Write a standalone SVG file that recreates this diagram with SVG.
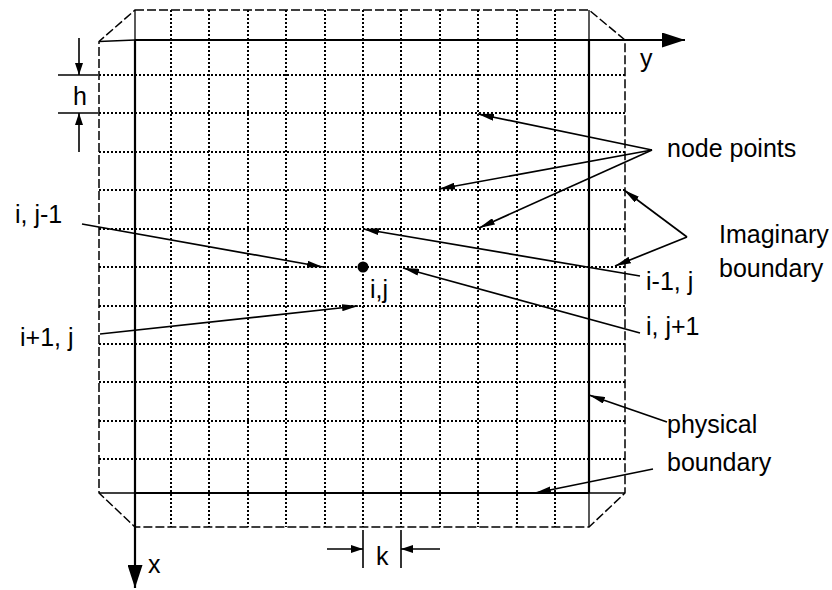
<svg xmlns="http://www.w3.org/2000/svg" width="832" height="590" viewBox="0 0 832 590">
<style>
  text { font-family: "Liberation Sans", Arial, sans-serif; font-size: 25px; fill: #000; }
  .dot { stroke: #000; stroke-width: 2; stroke-dasharray: 2 2; fill: none; }
  .dash { stroke: #000; stroke-width: 1.5; stroke-dasharray: 9 3; fill: none; }
  .thick { stroke: #000; stroke-width: 2.2; fill: none; }
  .thin { stroke: #000; stroke-width: 1.3; fill: none; }
  .lead { stroke: #000; stroke-width: 1.7; fill: none; marker-end: url(#ah); }
  .dim { stroke: #000; stroke-width: 1.6; fill: none; }
  .dimarr { stroke: #000; stroke-width: 1.6; fill: none; marker-end: url(#dh); }
</style>
<defs>
  <marker id="ah" markerUnits="userSpaceOnUse" markerWidth="16" markerHeight="7" viewBox="0 0 16 7" refX="16" refY="3.5" orient="auto">
    <path d="M0,0 L16,3.5 L0,7 Z" fill="#000"/>
  </marker>
  <marker id="dh" markerUnits="userSpaceOnUse" markerWidth="12" markerHeight="8" viewBox="0 0 12 8" refX="12" refY="4" orient="auto">
    <path d="M0,0 L12,4 L0,8 Z" fill="#000"/>
  </marker>
  <marker id="axh" markerUnits="userSpaceOnUse" markerWidth="23" markerHeight="15" viewBox="0 0 23 15" refX="23" refY="7.5" orient="auto">
    <path d="M0,0 L23,7.5 L0,15 Z" fill="#000"/>
  </marker>
</defs>

<g id="grid">
  <g id="grid-columns">
    <line class="dot" x1="171" y1="10" x2="171" y2="527"/>
    <line class="dot" x1="209" y1="10" x2="209" y2="527"/>
    <line class="dot" x1="248" y1="10" x2="248" y2="527"/>
    <line class="dot" x1="286" y1="10" x2="286" y2="527"/>
    <line class="dot" x1="325" y1="10" x2="325" y2="527"/>
    <line class="dot" x1="363" y1="10" x2="363" y2="527"/>
    <line class="dot" x1="401" y1="10" x2="401" y2="527"/>
    <line class="dot" x1="440" y1="10" x2="440" y2="527"/>
    <line class="dot" x1="478" y1="10" x2="478" y2="527"/>
    <line class="dot" x1="517" y1="10" x2="517" y2="527"/>
    <line class="dot" x1="555" y1="10" x2="555" y2="527"/>
  </g>
  <g id="grid-rows">
    <line class="dot" x1="99" y1="75" x2="625" y2="75"/>
    <line class="dot" x1="99" y1="113" x2="625" y2="113"/>
    <line class="dot" x1="99" y1="152" x2="625" y2="152"/>
    <line class="dot" x1="99" y1="190" x2="625" y2="190"/>
    <line class="dot" x1="99" y1="229" x2="625" y2="229"/>
    <line class="dot" x1="99" y1="267" x2="625" y2="267"/>
    <line class="dot" x1="99" y1="306" x2="625" y2="306"/>
    <line class="dot" x1="99" y1="344" x2="625" y2="344"/>
    <line class="dot" x1="99" y1="382" x2="625" y2="382"/>
    <line class="dot" x1="99" y1="421" x2="625" y2="421"/>
    <line class="dot" x1="99" y1="459" x2="625" y2="459"/>
  </g>
</g>

<g id="imaginary-boundary">
  <path class="dash" d="M135,10 L589,10 L625,40 L625,493 L589,527 L135,527 L99,493 L99,41.5 Z"/>
</g>

<g id="physical-boundary">
  <line class="thick" x1="135" y1="493" x2="589" y2="493"/>
  <line class="thick" x1="589" y1="40" x2="589" y2="493"/>
  <line class="thin" x1="589" y1="10" x2="589" y2="40"/>
  <line class="thin" x1="589" y1="493" x2="589" y2="527"/>
  <line class="thin" x1="99" y1="493" x2="135" y2="493"/>
  <line class="thin" x1="589" y1="493" x2="625" y2="493"/>
</g>

<g id="axes">
  <line class="thin" x1="99" y1="41.5" x2="135" y2="40"/>
  <line class="thick" x1="135" y1="40" x2="685" y2="40" marker-end="url(#axh)"/>
  <line class="thin" x1="135" y1="10" x2="135" y2="40"/>
  <line class="thick" x1="135" y1="40" x2="135" y2="588" marker-end="url(#axh)"/>
  <text x="640" y="67">y</text>
  <text x="148" y="573">x</text>
</g>

<g id="node-ij">
  <circle cx="363" cy="267" r="5.5" fill="#000"/>
  <text x="370" y="298">i,j</text>
</g>

<g id="dimension-h">
  <line class="dim" x1="58" y1="75" x2="98" y2="75"/>
  <line class="dim" x1="58" y1="113" x2="98" y2="113"/>
  <line class="dimarr" x1="79" y1="38" x2="79" y2="75"/>
  <line class="dimarr" x1="79" y1="152" x2="79" y2="113"/>
  <text x="73" y="105">h</text>
</g>

<g id="dimension-k">
  <line class="dim" x1="363" y1="530" x2="363" y2="568"/>
  <line class="dim" x1="401" y1="530" x2="401" y2="568"/>
  <line class="dimarr" x1="327" y1="549" x2="363" y2="549"/>
  <line class="dimarr" x1="440" y1="549" x2="401" y2="549"/>
  <text x="376" y="565">k</text>
</g>

<g id="label-node-points"><text x="667" y="157">node points</text></g>
<g id="label-i-jm1"><text x="15" y="223">i, j-1</text></g>
<g id="label-ip1-j"><text x="20" y="346">i+1, j</text></g>
<g id="label-im1-j"><text x="646" y="290">i-1, j</text></g>
<g id="label-i-jp1"><text x="646" y="335">i, j+1</text></g>
<g id="label-imaginary"><text x="719" y="243">Imaginary</text><text x="719" y="277">boundary</text></g>
<g id="label-physical"><text x="667" y="433">physical</text><text x="667" y="471">boundary</text></g>

<g id="connectors">
  <line class="lead" x1="82" y1="224" x2="323" y2="267"/>
  <line class="lead" x1="100" y1="334" x2="358" y2="306"/>
  <line class="lead" x1="640" y1="276" x2="363" y2="229"/>
  <line class="lead" x1="640" y1="333" x2="403" y2="268"/>
  <line class="lead" x1="652" y1="150" x2="478" y2="114"/>
  <line class="lead" x1="652" y1="150" x2="439" y2="189"/>
  <line class="lead" x1="652" y1="150" x2="479" y2="228"/>
  <line class="lead" x1="687" y1="237" x2="624" y2="190"/>
  <line class="lead" x1="687" y1="237" x2="615" y2="266"/>
  <line class="lead" x1="667" y1="422" x2="589" y2="395"/>
  <line class="lead" x1="653" y1="469" x2="535" y2="493"/>
</g>
</svg>
